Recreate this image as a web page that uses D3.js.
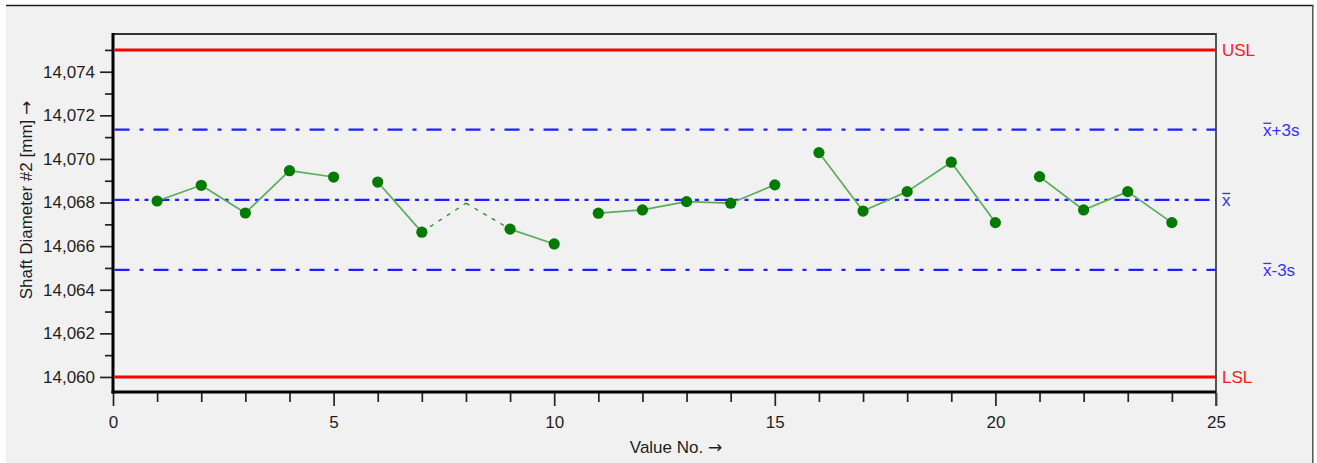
<!DOCTYPE html>
<html>
<head>
<meta charset="utf-8">
<script src="https://cdn.jsdelivr.net/npm/d3@7/dist/d3.min.js"></script>
<style>
  html, body { margin: 0; padding: 0; background: #ffffff; }
  svg text { font-family: "Liberation Sans", Arial, sans-serif; }
</style>
</head>
<body>
<svg id="chart" width="1317" height="463"></svg>
<script>
// Individual shaft diameter measurements (mm), value no. 1..24
const valueNo = [1, 2, 3, 4, 5, 6, 7, 8, 9, 10, 11, 12, 13, 14, 15, 16, 17, 18, 19, 20, 21, 22, 23, 24];
const diameters = [
  14.06807, 14.06879, 14.06752, 14.06946, 14.06917,
  14.06894, 14.06664, 14.06797, 14.06678, 14.06610,
  14.06751, 14.06766, 14.06804, 14.06797, 14.06881,
  14.07029, 14.06761, 14.06850, 14.06985, 14.06708,
  14.06919, 14.06766, 14.06850, 14.06708
];
// Values removed from the evaluation (drawn dotted, no marker)
const excludedNo = [8];
// Measurements are taken in subgroups of this size; lines join only within a subgroup
const subgroupSize = 5;

// Specification and control limits
const limitNames = ["USL", "x̄+3s", "x̄", "x̄-3s", "LSL"];
const limitValues = [14.075, 14.07134, 14.06812, 14.06491, 14.060];
const limitKinds = ["spec", "ctrl", "mean", "ctrl", "spec"];

// Axis ticks
const yMajorTicks = [14.060, 14.062, 14.064, 14.066, 14.068, 14.070, 14.072, 14.074];
const yMinorTicks = [14.061, 14.063, 14.065, 14.067, 14.069, 14.071, 14.073, 14.075];
const xMajorTicks = [0, 5, 10, 15, 20, 25];
const xMinorTicks = [1, 2, 3, 4, 6, 7, 8, 9, 11, 12, 13, 14, 16, 17, 18, 19, 21, 22, 23, 24];

const yTitle = "Shaft Diameter #2 [mm]";
const xTitle = "Value No.";
const arrow = "→";

const svg = d3.select("#chart");
const plot = { left: 113, right: 1216, top: 34, bottom: 392 };

const x = d3.scaleLinear().domain([0, 25]).range([plot.left, plot.right]);
const y = d3.scaleLinear().domain([14.05931, 14.07573]).range([plot.bottom, plot.top]);

const FONT = 17;
const textColor = "#1e1e1e";

// Window panel
svg.append("rect").attr("x", 6).attr("y", 5).attr("width", 1307).attr("height", 470)
  .attr("fill", "#f1f1f1");
svg.append("line").attr("x1", 6).attr("x2", 1313.5).attr("y1", 5.5).attr("y2", 5.5)
  .attr("stroke", "#1a1a1a").attr("stroke-width", 1.5);
svg.append("line").attr("x1", 1312.8).attr("x2", 1312.8).attr("y1", 5).attr("y2", 463)
  .attr("stroke", "#555").attr("stroke-width", 1.5);

// Ticks
const fmt = d => d3.format(".3f")(d).replace(".", ",");

const yAxis = svg.append("g").attr("transform", `translate(${plot.left - 1},0)`)
  .call(d3.axisLeft(y).tickValues(yMajorTicks).tickSize(12).tickPadding(5).tickFormat(fmt));
const yMinor = svg.append("g").attr("transform", `translate(${plot.left - 1},0)`)
  .call(d3.axisLeft(y).tickValues(yMinorTicks).tickSize(7).tickFormat(""));

const xAxis = svg.append("g").attr("transform", `translate(0,${plot.bottom + 1})`)
  .call(d3.axisBottom(x).tickValues(xMajorTicks).tickSize(13).tickPadding(10).tickFormat(d3.format("d")));
const xMinor = svg.append("g").attr("transform", `translate(0,${plot.bottom + 1})`)
  .call(d3.axisBottom(x).tickValues(xMinorTicks).tickSize(9).tickFormat(""));

[yAxis, yMinor, xAxis, xMinor].forEach(g => {
  g.select(".domain").remove();
  g.selectAll(".tick line").attr("stroke", "#222").attr("stroke-width", 1.7);
  g.selectAll(".tick text").attr("fill", textColor)
    .style("font-size", FONT + "px").style("font-family", '"Liberation Sans", Arial, sans-serif');
});

// Plot frame: heavy axis lines on left/bottom, thin on top/right
svg.append("line").attr("x1", plot.left).attr("x2", plot.right).attr("y1", plot.top).attr("y2", plot.top)
  .attr("stroke", "#333").attr("stroke-width", 1.8);
svg.append("line").attr("x1", plot.right).attr("x2", plot.right).attr("y1", plot.top - 1).attr("y2", plot.bottom + 14)
  .attr("stroke", "#444").attr("stroke-width", 1.8);
svg.append("line").attr("x1", plot.left).attr("x2", plot.left).attr("y1", plot.top - 1).attr("y2", plot.bottom + 1.5)
  .attr("stroke", "#000").attr("stroke-width", 3);
svg.append("line").attr("x1", plot.left - 1.5).attr("x2", plot.right).attr("y1", plot.bottom).attr("y2", plot.bottom)
  .attr("stroke", "#000").attr("stroke-width", 3);

// Limit lines
const limits = limitNames.map((name, i) => ({ name, value: limitValues[i], kind: limitKinds[i] }));
const lineStyle = {
  spec: { stroke: "#ff0000", width: 3, dash: null },
  ctrl: { stroke: "#1e1eff", width: 2.2, dash: "15 10 4 10" },
  mean: { stroke: "#1e1eff", width: 2.2, dash: "15 5.5 4 5.5 4 6" }
};
svg.append("g").selectAll("line").data(limits).join("line")
  .attr("x1", plot.left + 1.5).attr("x2", plot.right)
  .attr("y1", d => y(d.value)).attr("y2", d => y(d.value))
  .attr("stroke", d => lineStyle[d.kind].stroke)
  .attr("stroke-width", d => lineStyle[d.kind].width)
  .attr("stroke-dasharray", d => lineStyle[d.kind].dash);

// Limit labels on the right; x-bar drawn as "x" with a bar over it
const labelG = svg.append("g");
limits.forEach(d => {
  const lx = d.kind === "ctrl" ? 1263 : 1222;
  const color = d.kind === "spec" ? "#ff1a1a" : "#3333ff";
  const t = labelG.append("text")
    .attr("x", lx).attr("y", y(d.value)).attr("dy", "0.36em")
    .attr("fill", color)
    .style("font-size", FONT + "px");
  if (d.name.startsWith("x̄")) {
    t.text("x" + d.name.slice(2));
    const w = t.node().getSubStringLength(0, 1);
    const by = y(d.value) + 0.36 * FONT - 0.74 * FONT;
    labelG.append("line")
      .attr("x1", lx + 0.3).attr("x2", lx + w - 0.3)
      .attr("y1", by).attr("y2", by)
      .attr("stroke", color).attr("stroke-width", 1.3);
  } else {
    t.text(d.name);
  }
});

// Measurement series
const points = valueNo.map((n, i) => ({
  n, v: diameters[i], excluded: excludedNo.includes(n), group: Math.floor((n - 1) / subgroupSize)
}));
const segments = d3.pairs(points).filter(([a, b]) => a.group === b.group);

svg.append("g").selectAll("line").data(segments).join("line")
  .attr("x1", d => x(d[0].n)).attr("y1", d => y(d[0].v))
  .attr("x2", d => x(d[1].n)).attr("y2", d => y(d[1].v))
  .attr("stroke", d => (d[0].excluded || d[1].excluded) ? "#2f8f2f" : "#5aad5a")
  .attr("stroke-width", d => (d[0].excluded || d[1].excluded) ? 1.4 : 1.7)
  .attr("stroke-dasharray", d => (d[0].excluded || d[1].excluded) ? "4 6" : null);

svg.append("g").selectAll("circle").data(points.filter(p => !p.excluded)).join("circle")
  .attr("cx", d => x(d.n)).attr("cy", d => y(d.v)).attr("r", 5.6)
  .attr("fill", "#007a00");

// Axis titles (arrow glyph from DejaVu, which has a full-width arrow)
const yt = svg.append("text")
  .attr("transform", "translate(32,200) rotate(-90)")
  .attr("text-anchor", "middle").attr("fill", textColor)
  .style("font-size", FONT + "px");
yt.append("tspan").text(yTitle + " ");
yt.append("tspan").style("font-family", '"DejaVu Sans", sans-serif').text(arrow);

const xt = svg.append("text")
  .attr("x", 676).attr("y", 453)
  .attr("text-anchor", "middle").attr("fill", textColor)
  .style("font-size", FONT + "px");
xt.append("tspan").text(xTitle + " ");
xt.append("tspan").style("font-family", '"DejaVu Sans", sans-serif').text(arrow);
</script>
</body>
</html>
